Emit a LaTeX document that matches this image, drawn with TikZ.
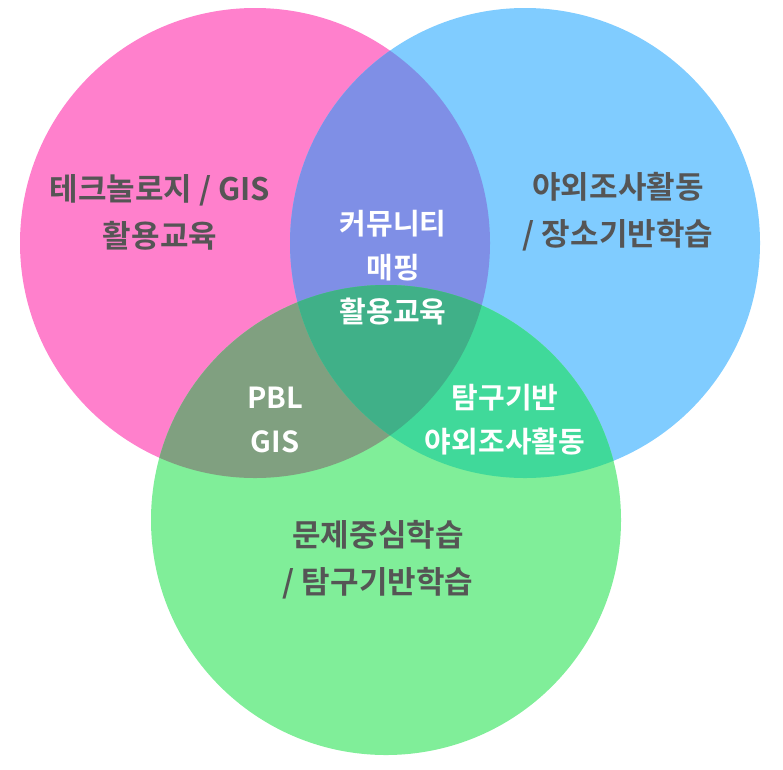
\documentclass[tikz,border=0pt]{standalone}
\usepackage{fontspec}
\setmainfont{Noto Sans CJK KR}[BoldFont={* Bold}]
\definecolor{venn_pink}{HTML}{FF80CC}
\definecolor{venn_blue}{HTML}{80CCFF}
\definecolor{venn_green}{HTML}{80EE99}
\definecolor{venn_pb}{HTML}{7F8FE6}
\definecolor{venn_pg}{HTML}{80A080}
\definecolor{venn_bg}{HTML}{40D99A}
\definecolor{venn_all}{HTML}{40B088}
\definecolor{venn_text}{HTML}{555555}
\tikzset{
  outer/.style={text=venn_text, font=\bfseries\fontsize{31}{47}\selectfont, align=center},
  inner/.style={text=white, font=\bfseries\fontsize{29}{44}\selectfont, align=center}
}
\begin{document}
\begin{tikzpicture}[x=1pt,y=-1pt]
        \useasboundingbox (0,0) rectangle (783,769);
        \def\pinkc{(255,243) circle (235)}
        \def\bluec{(525,243) circle (235)}
        \def\greenc{(386,520) circle (235)}

        \fill[venn_pink] \pinkc;
        \fill[venn_blue] \bluec;
        \fill[venn_green] \greenc;
        \begin{scope}
            \clip \pinkc;
            \fill[venn_pb] \bluec;
            \fill[venn_pg] \greenc;
        \end{scope}
        \begin{scope}
            \clip \bluec;
            \fill[venn_bg] \greenc;
        \end{scope}
        \begin{scope}
            \clip \pinkc;
            \clip \bluec;
            \fill[venn_all] \greenc;
        \end{scope}

        \node[outer] (tech) at (160,212) {테크놀로지 / GIS\\활용교육};
        \node[outer] (field) at (618,212) {야외조사활동\\/ 장소기반학습};
        \node[outer] (pbl) at (378,560) {문제중심학습\\/ 탐구기반학습};
        \node[inner] (map) at (393,268) {커뮤니티\\매핑\\활용교육};
        \node[inner] (gis) at (275,420) {PBL\\GIS};
        \node[inner] (inq) at (505,420) {탐구기반\\야외조사활동};
\end{tikzpicture}
\end{document}
